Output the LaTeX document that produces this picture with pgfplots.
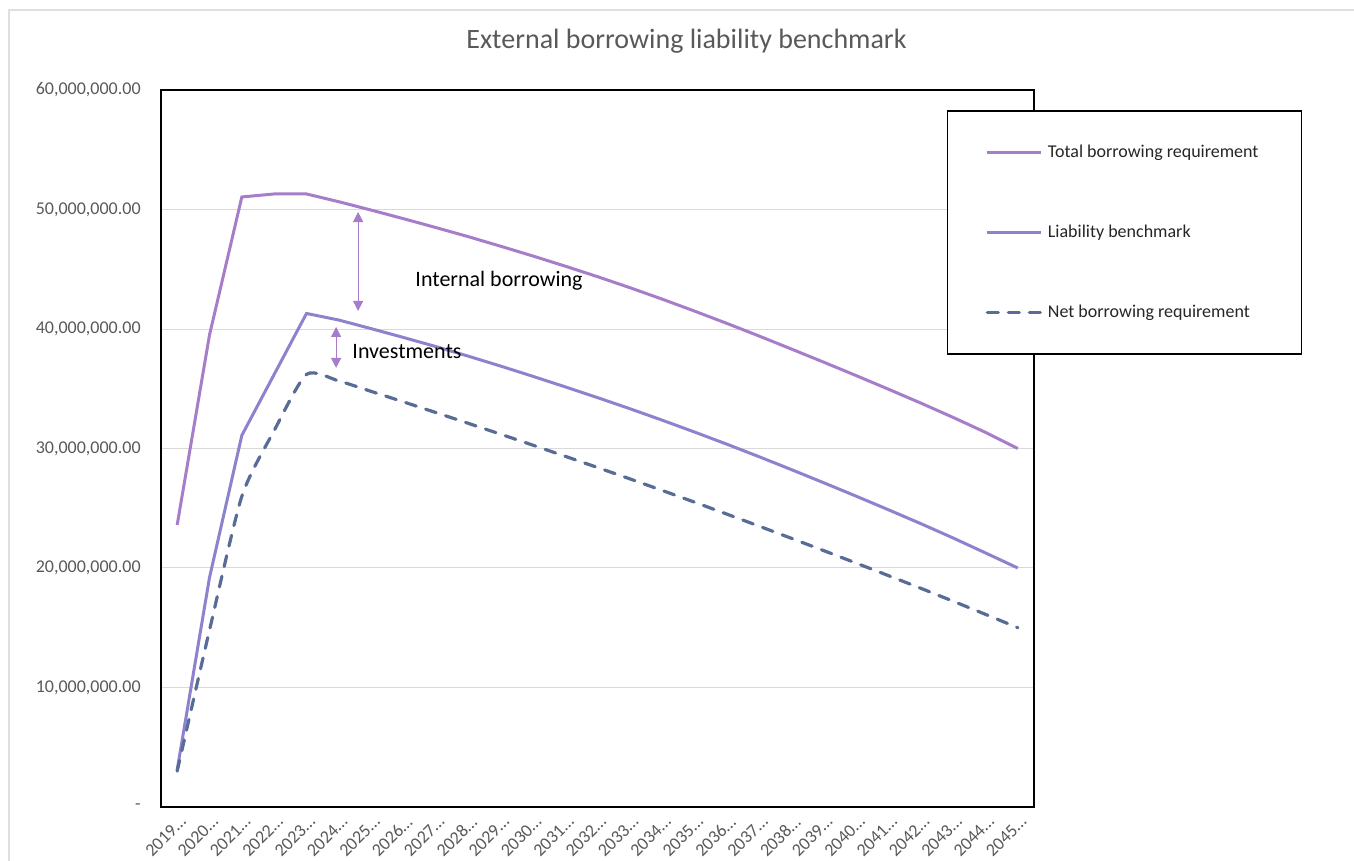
\documentclass[border=0pt]{standalone}
\usepackage{fontspec}
\setmainfont{Carlito}
\usepackage{pgfplots}
\usepackage{pgfplotstable}
\pgfplotsset{compat=1.18}
\usetikzlibrary{arrows.meta}
\definecolor{tot}{RGB}{166,125,200}
\definecolor{lia}{RGB}{140,130,206}
\definecolor{netc}{RGB}{88,108,150}
\definecolor{txtgray}{RGB}{89,89,89}
\definecolor{gridgray}{RGB}{217,217,217}

\pgfplotstableread{
i total liab net
0 23600000 3100000 3000000
1 39500000 19200000 14800000
2 51050000 31100000 26000000
3 51300000 36200000 31500000
4 51300000 41300000 36200000
5 50650000 40750000 35650000
6 49950000 40030000 34780000
7 49230000 39290000 33900000
8 48490000 38530000 33010000
9 47730000 37730000 32110000
10 46930000 36900000 31200000
11 46110000 36040000 30280000
12 45260000 35160000 29350000
13 44380000 34260000 28410000
14 43460000 33330000 27460000
15 42500000 32370000 26490000
16 41500000 31380000 25510000
17 40470000 30360000 24510000
18 39410000 29310000 23500000
19 38320000 28230000 22480000
20 37220000 27130000 21450000
21 36100000 26010000 20410000
22 34960000 24870000 19360000
23 33800000 23710000 18300000
24 32600000 22510000 17220000
25 31350000 21260000 16120000
26 30000000 20000000 15000000
}\data

\begin{document}
\begin{tikzpicture}
\useasboundingbox (0,0) rectangle (677pt,430.5pt);
\draw[gray!25, line width=1pt] (4.5pt,0) -- (4.5pt,425.5pt) -- (677pt,425.5pt);
\node[text=txtgray, font=\fontsize{14}{16}\selectfont] at (343.25pt,410pt) {External borrowing liability benchmark};
\begin{axis}[
  at={(80.5pt,27pt)}, anchor=south west,
  scale only axis, width=436.5pt, height=358.5pt,
  xmin=-0.5, xmax=26.5, ymin=0, ymax=60000000,
  scaled y ticks=false,
  xtick={0,...,26},
  xticklabels={2019…,2020…,2021…,2022…,2023…,2024…,2025…,2026…,2027…,2028…,2029…,2030…,2031…,2032…,2033…,2034…,2035…,2036…,2037…,2038…,2039…,2040…,2041…,2042…,2043…,2044…,2045…},
  ytick={0,10000000,20000000,30000000,40000000,50000000,60000000},
  yticklabels={{-\hspace{21pt}},{10,000,000.00},{20,000,000.00},{30,000,000.00},{40,000,000.00},{50,000,000.00},{60,000,000.00}},
  axis line style={black, line width=0.75pt},
  ymajorgrids, grid style={gridgray, line width=0.5pt},
  tick style={draw=none},
  yticklabel style={inner sep=0pt, xshift=-10pt, font=\fontsize{9}{11}\selectfont, text=txtgray},
  xticklabel style={rotate=45, anchor=north east, inner sep=0pt, xshift=-2pt, yshift=-3pt, font=\fontsize{9}{11}\selectfont, text=txtgray},
  legend style={at={(0.9003,0.9721)}, anchor=north west, draw=black, line width=0.75pt, fill=white,
    inner xsep=19pt, inner ysep=14.5pt, row sep=27.25pt, font=\fontsize{9}{11}\selectfont, text=black!85,
    nodes={inner sep=2.5pt}},
  legend cell align=left,
  legend image code/.code={\draw[#1] (0pt,0pt) -- (27pt,0pt);},
]
\addplot[tot, line width=1.5pt] table[x=i, y=total] {\data};
\addlegendentry{Total borrowing requirement}
\addplot[lia, line width=1.5pt] table[x=i, y=liab] {\data};
\addlegendentry{Liability benchmark}
\addplot[netc, line width=1.6pt, dash pattern=on 5.5pt off 5pt, line cap=round, smooth, tension=0.4] table[x=i, y=net] {\data};
\addlegendentry{Net borrowing requirement}

\draw[tot, line width=0.5pt, {Triangle[width=5pt,length=5pt]}-{Triangle[width=5pt,length=5pt]}] (axis cs:5.596,49790000) -- (axis cs:5.596,41510000);
\draw[tot, line width=0.5pt, {Triangle[width=5pt,length=5pt]}-{Triangle[width=5pt,length=5pt]}] (axis cs:4.916,40170000) -- (axis cs:4.916,36740000);
\node[anchor=west, inner sep=0pt, font=\fontsize{11}{13}\selectfont] at (axis cs:7.358,44020000) {Internal borrowing};
\node[anchor=west, inner sep=0pt, font=\fontsize{11}{13}\selectfont] at (axis cs:5.41,38080000) {Investments};
\end{axis}
\end{tikzpicture}
\end{document}
